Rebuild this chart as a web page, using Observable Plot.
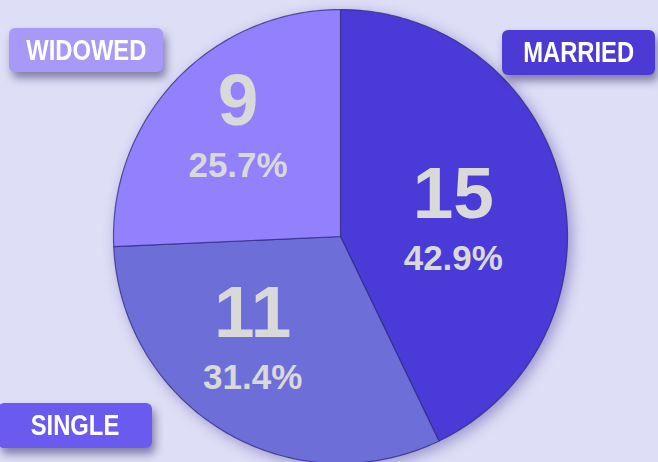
<!DOCTYPE html>
<html><head><meta charset="utf-8">
<script src="https://cdn.jsdelivr.net/npm/d3@7"></script>
<script src="https://cdn.jsdelivr.net/npm/@observablehq/plot@0.6"></script>
<style>
html,body{margin:0;padding:0;background:#dedef6;}
#wrap{position:relative;width:658px;height:462px;overflow:hidden;background:#dedef6;}
#wrap svg{position:absolute;left:0;top:0;}
.tag{position:absolute;box-sizing:border-box;border-radius:6px;color:#fff;font-family:"Liberation Sans",Arial,sans-serif;font-weight:bold;font-size:29px;display:flex;align-items:center;justify-content:center;box-shadow:3px 6px 8px rgba(40,30,90,0.5);}
.tag span{display:inline-block;transform:scaleX(0.82);white-space:nowrap;}
</style></head><body><div id="wrap"></div>
<script>
// ---- data ----
const categories = ["MARRIED", "SINGLE", "WIDOWED"];
const counts = [15, 11, 9];

// ---- styles / layout (kept separate from data) ----
const sliceColors = ["#4a3ad8", "#6e6ed8", "#9280fc"];
const tagColors = ["#4b3bd4", "#6a5af0", "#a898f8"];
const tagBoxes = {MARRIED: [502, 30, 153, 45], SINGLE: [-2, 403, 154, 45], WIDOWED: [9, 28, 154, 44]};
const labelNudge = {MARRIED: [-20, 12], SINGLE: [-18, -16], WIDOWED: [-4, -17]};
const W = 658, H = 462, CX = 340, CY = 236, R = 227;

const total = d3.sum(counts);
const fmtPct = d3.format(".1%");
let acc = 0;
const slices = categories.map((c, i) => {
  const a0 = acc / total * 2 * Math.PI; acc += counts[i];
  const a1 = acc / total * 2 * Math.PI;
  return {c, value: counts[i], pct: fmtPct(counts[i] / total), a0, a1};
});
const pts = slices.flatMap(s => {
  const n = Math.max(2, Math.ceil((s.a1 - s.a0) / (Math.PI / 180)));
  const arr = [{c: s.c, x: 0, y: 0}];
  for (let k = 0; k <= n; k++) {
    const a = s.a0 + (s.a1 - s.a0) * k / n;
    arr.push({c: s.c, x: Math.sin(a), y: Math.cos(a)});
  }
  arr.push({c: s.c, x: 0, y: 0});
  return arr;
});
const labels = slices.map(s => {
  const m = (s.a0 + s.a1) / 2, r = 0.6, nd = labelNudge[s.c];
  return {c: s.c, value: String(s.value), pct: s.pct,
    x: Math.sin(m) * r + nd[0] / R, y: Math.cos(m) * r - nd[1] / R};
});

const chart = Plot.plot({
  width: W, height: H,
  margin: 0,
  style: {background: "transparent", overflow: "visible"},
  x: {domain: [-CX / R, (W - CX) / R], axis: null},
  y: {domain: [-(H - CY) / R, CY / R], axis: null},
  color: {type: "ordinal", domain: categories, range: sliceColors},
  marks: [
    Plot.line(pts, {x: "x", y: "y", z: "c", fill: "c", stroke: "#2f2a80", strokeWidth: 1.2, strokeOpacity: 0.75, curve: "linear", strokeLinejoin: "round"}),
    Plot.text(labels, {x: "x", y: "y", text: "value", fill: "#d9d9d9", fontSize: 73, fontWeight: "bold", fontFamily: "Liberation Sans, Arial, sans-serif", textAnchor: "middle", lineAnchor: "bottom"}),
    Plot.text(labels, {x: "x", y: "y", text: "pct", fill: "#d9d9d9", fontSize: 35, fontWeight: "bold", fontFamily: "Liberation Sans, Arial, sans-serif", textAnchor: "middle", lineAnchor: "bottom", dy: 52})
  ]
});
const wrap = document.getElementById("wrap");
wrap.appendChild(chart);
const pie = chart.querySelector('g[aria-label="line"]');
if (pie) pie.style.filter = "drop-shadow(4px 4px 7px rgba(70,60,150,0.45))";

categories.forEach((c, i) => {
  const b = tagBoxes[c];
  const d = document.createElement("div");
  d.className = "tag";
  const sp = document.createElement("span");
  sp.textContent = c;
  d.appendChild(sp);
  Object.assign(d.style, {left: b[0] + "px", top: b[1] + "px", width: b[2] + "px", height: b[3] + "px", background: tagColors[i]});
  wrap.appendChild(d);
});
</script></body></html>
